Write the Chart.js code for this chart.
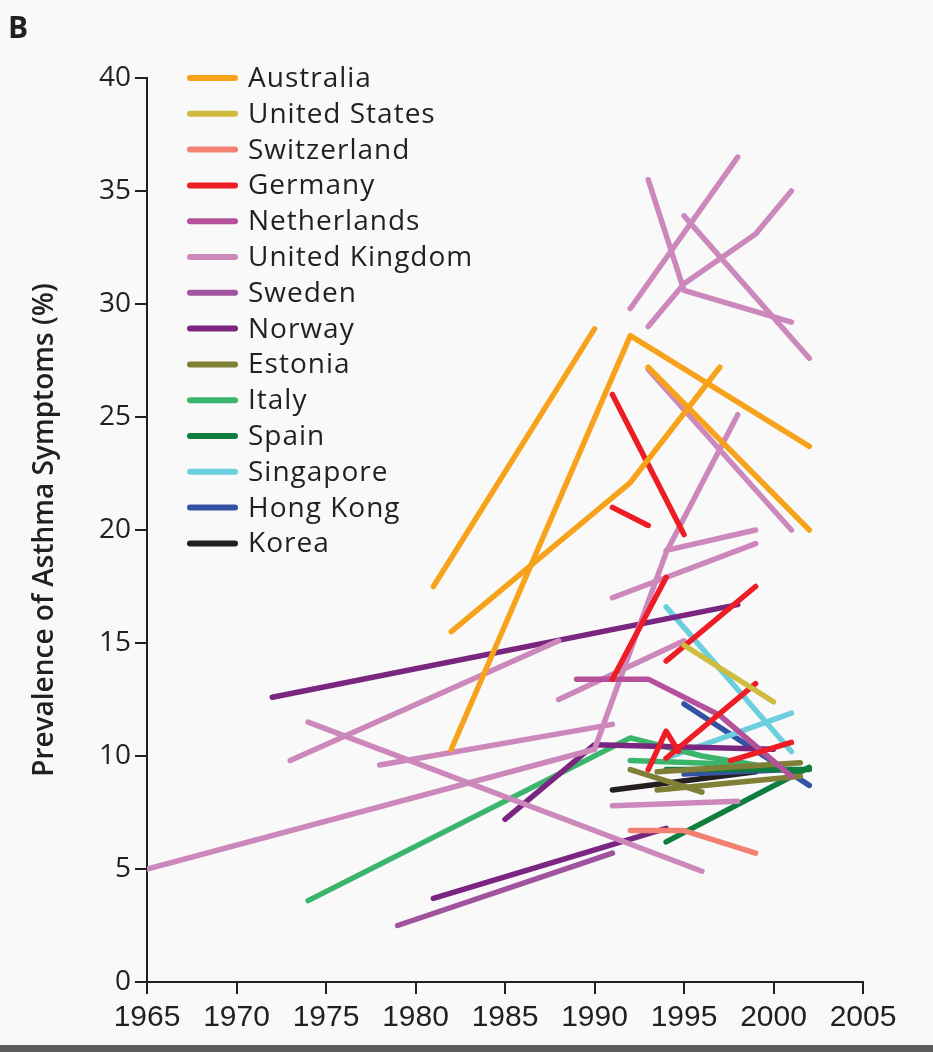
<!DOCTYPE html>
<html>
<head>
<meta charset="utf-8">
<script src="https://cdn.jsdelivr.net/npm/chart.js@4/dist/chart.umd.min.js"></script>
<style>
  html, body { margin: 0; padding: 0; background: #f9f9f9; }
  #wrap { position: relative; width: 933px; height: 1052px; overflow: hidden; }
  #panel { position: absolute; left: 8px; top: 6px; font: bold 30px "Open Sans", sans-serif; color: #231f20; }
  #strip { position: absolute; left: 0; bottom: 0; width: 933px; height: 7px; background: #5c5c5c; }
  canvas { position: absolute; left: 0; top: 0; }
</style>
</head>
<body>
<div id="wrap">
  <canvas id="c" width="933" height="1052"></canvas>
  <div id="panel">B</div>
  <div id="strip"></div>
</div>
<script>
// countries + colours (legend order)
const countries = ["Australia", "United States", "Switzerland", "Germany", "Netherlands",
  "United Kingdom", "Sweden", "Norway", "Estonia", "Italy", "Spain", "Singapore", "Hong Kong", "Korea"];
const colors = ["#f7a21b", "#cfbb3e", "#f28172", "#ee1c25", "#b5519b", "#cc88bb", "#a0549e",
  "#7a2680", "#7f7f35", "#3bb56b", "#0e7d3d", "#6ccfde", "#3553a4", "#231f20"];

// axis ticks
const xTicks = [1965, 1970, 1975, 1980, 1985, 1990, 1995, 2000, 2005];
const yTicks = [0, 5, 10, 15, 20, 25, 30, 35, 40];

// one entry per study line: country index, survey years, prevalence (%)
const segCountry = [
  0, 0, 0, 0,
  1,
  2,
  3, 3, 3, 3, 3, 3, 3,
  4,
  5, 5, 5, 5, 5, 5, 5, 5, 5, 5, 5, 5, 5, 5,
  6,
  7, 7, 7,
  8, 8, 8,
  9, 9,
  10, 10,
  11, 11,
  12, 12,
  13
];
const segYears = [
  [1981, 1990], [1982, 1992, 2002], [1982, 1992, 1997], [1993, 2002],
  [1995, 2000],
  [1992, 1995, 1999],
  [1991, 1995], [1991, 1993], [1991, 1994], [1994, 1999], [1993, 1994, 1994.7], [1994, 1999], [1997.6, 2001],
  [1989, 1993, 1997, 2001],
  [1965, 1990], [1990, 1994, 1998], [1973, 1988], [1974, 1996], [1978, 1991], [1988, 1995],
  [1991, 1999], [1994, 1999], [1993, 2001], [1993, 1995, 2001], [1992, 1998],
  [1993, 1995, 1999, 2001], [1995, 2002], [1991, 1998],
  [1979, 1991],
  [1972, 1998], [1981, 1994], [1985, 1990, 2000],
  [1992, 1996], [1993.5, 2001.5], [1993.5, 2001.5],
  [1974, 1992, 1996, 1999], [1992, 1999],
  [1994, 2002], [1994, 2002],
  [1994, 2001], [1994, 2001],
  [1995, 2002], [1995, 2001],
  [1991, 1999]
];
const segValues = [
  [17.5, 28.9], [10.3, 28.6, 23.7], [15.5, 22.1, 27.2], [27.2, 20.0],
  [14.9, 12.4],
  [6.7, 6.7, 5.7],
  [26.0, 19.8], [21.0, 20.2], [13.4, 17.9], [14.2, 17.5], [9.4, 11.1, 10.2], [9.9, 13.2], [9.8, 10.6],
  [13.4, 13.4, 11.8, 9.1],
  [5.0, 10.3], [10.3, 19.0, 25.1], [9.8, 15.1], [11.5, 4.9], [9.6, 11.4], [12.5, 15.1],
  [17.0, 19.4], [19.1, 20.0], [27.1, 20.0], [35.5, 30.6, 29.2], [29.8, 36.5],
  [29.0, 30.9, 33.1, 35.0], [33.9, 27.6], [7.8, 8.0],
  [2.5, 5.7],
  [12.6, 16.7], [3.7, 6.8], [7.2, 10.5, 10.3],
  [9.4, 8.4], [9.3, 9.7], [8.5, 9.1],
  [3.6, 10.8, 10.0, 9.6], [9.8, 9.6],
  [6.2, 9.5], [9.4, 9.4],
  [16.6, 10.2], [9.9, 11.9],
  [12.3, 8.7], [9.2, 9.4],
  [8.5, 9.3]
];

const datasets = segCountry.map((ci, i) => ({
  label: countries[ci],
  data: segYears[i].map((yr, j) => ({ x: yr, y: segValues[i][j] })),
  borderColor: colors[ci],
  borderWidth: 5.5,
  borderCapStyle: "round",
  borderJoinStyle: "round",
  pointRadius: 0,
  fill: false,
  tension: 0
}));

// legend drawn inside the plot area, top-left
const insideLegend = {
  id: "insideLegend",
  afterDraw(chart) {
    const ctx = chart.ctx;
    ctx.save();
    ctx.font = "28px 'Open Sans', sans-serif";
    ctx.letterSpacing = "1px";
    ctx.textBaseline = "middle";
    countries.forEach((name, i) => {
      const y = 78 + i * 35.8;
      ctx.strokeStyle = colors[i];
      ctx.lineWidth = 6;
      ctx.lineCap = "round";
      ctx.beginPath();
      ctx.moveTo(190, y);
      ctx.lineTo(235, y);
      ctx.stroke();
      ctx.fillStyle = "#231f20";
      ctx.fillText(name, 248, y + 1);
    });
    ctx.restore();
  }
};

new Chart(document.getElementById("c"), {
  type: "line",
  data: { datasets },
  options: {
    responsive: false,
    animation: false,
    layout: { padding: { left: 0, top: 78, right: 70, bottom: 10 } },
    plugins: { legend: { display: false }, tooltip: { enabled: false } },
    scales: {
      x: {
        type: "linear",
        min: 1965,
        max: 2005,
        afterBuildTicks: (s) => { s.ticks = xTicks.map(v => ({ value: v })); },
        afterFit: (s) => { s.height = 60; },
        grid: { display: true, drawOnChartArea: false, color: "#231f20", lineWidth: 2, tickLength: 12 },
        border: { color: "#231f20", width: 2 },
        ticks: {
          color: "#231f20",
          padding: 6,
          maxRotation: 0,
          font: { family: "'Liberation Sans Narrow', sans-serif", size: 30 },
          callback: (v) => String(v)
        }
      },
      y: {
        min: 0,
        max: 40,
        afterBuildTicks: (s) => { s.ticks = yTicks.map(v => ({ value: v })); },
        afterFit: (s) => { s.width = 147; },
        grid: { display: true, drawOnChartArea: false, color: "#231f20", lineWidth: 2, tickLength: 12 },
        border: { color: "#231f20", width: 2 },
        ticks: {
          color: "#231f20",
          padding: 4,
          font: { family: "'Open Sans', sans-serif", size: 28 },
          callback: (v) => String(v)
        },
        title: {
          display: true,
          text: "Prevalence of Asthma Symptoms (%)",
          color: "#231f20",
          font: { family: "'Open Sans', sans-serif", size: 28, weight: "600" },
          padding: { top: 28, bottom: 0 }
        }
      }
    }
  },
  plugins: [insideLegend]
});
</script>
</body>
</html>
